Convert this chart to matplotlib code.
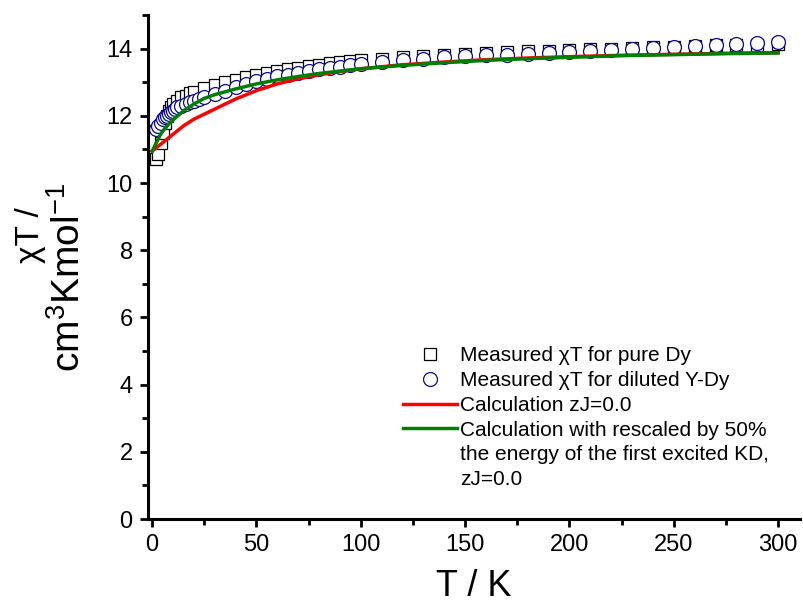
import matplotlib
matplotlib.use("Agg")
import matplotlib.pyplot as plt
from matplotlib.lines import Line2D
from matplotlib.ticker import MultipleLocator

plt.rcParams['font.family'] = ['Liberation Sans', 'DejaVu Sans']
plt.rcParams['mathtext.fontset'] = 'custom'
plt.rcParams['mathtext.rm'] = 'Liberation Sans'
plt.rcParams['mathtext.it'] = 'Liberation Sans:italic'

# Measured chiT, pure Dy (squares)
T_pure = [2, 3, 4, 5, 6, 7, 8, 9, 10, 12, 14, 16, 18, 20, 25, 30, 35, 40, 45, 50,
          55, 60, 65, 70, 75, 80, 85, 90, 95, 100, 110, 120, 130, 140, 150, 160,
          170, 180, 190, 200, 210, 220, 230, 240, 250, 260, 270, 280, 290, 300]
chiT_pure = [10.7, 10.85, 11.2, 11.5, 11.8, 12.0, 12.15, 12.25, 12.35, 12.45, 12.55,
             12.6, 12.68, 12.72, 12.82, 12.92, 13.0, 13.08, 13.15, 13.22, 13.28,
             13.33, 13.38, 13.43, 13.47, 13.52, 13.56, 13.6, 13.63, 13.66, 13.7,
             13.74, 13.78, 13.82, 13.85, 13.88, 13.9, 13.92, 13.94, 13.96, 13.98,
             14.0, 14.02, 14.04, 14.06, 14.08, 14.1, 14.11, 14.12, 14.13]

# Measured chiT, diluted Y-Dy (circles)
T_dil = [2, 3, 4, 5, 6, 7, 8, 9, 10, 11, 12, 14, 16, 18, 20, 22.5, 25, 30, 35, 40,
         45, 50, 55, 60, 65, 70, 75, 80, 85, 90, 95, 100, 110, 120, 130, 140, 150,
         160, 170, 180, 190, 200, 210, 220, 230, 240, 250, 260, 270, 280, 290, 300]
chiT_dil = [11.6, 11.7, 11.8, 11.9, 11.95, 12.0, 12.05, 12.1, 12.15, 12.2, 12.25,
            12.3, 12.35, 12.4, 12.45, 12.5, 12.55, 12.65, 12.75, 12.85, 12.95,
            13.03, 13.1, 13.17, 13.22, 13.28, 13.33, 13.38, 13.42, 13.46, 13.5,
            13.55, 13.6, 13.65, 13.7, 13.74, 13.78, 13.8, 13.82, 13.85, 13.87,
            13.89, 13.92, 13.95, 14.0, 14.02, 14.05, 14.08, 14.12, 14.15, 14.18, 14.2]

# Calculation zJ=0.0 (red)
T_red = [0, 2, 5, 10, 15, 20, 30, 40, 50, 60, 70, 80, 90, 100, 120, 140, 160, 180,
         200, 225, 250, 275, 300]
chiT_red = [10.95, 11.05, 11.2, 11.45, 11.7, 11.9, 12.2, 12.5, 12.75, 12.95, 13.1,
            13.22, 13.32, 13.4, 13.52, 13.6, 13.67, 13.72, 13.76, 13.8, 13.83,
            13.86, 13.88]

# Calculation with rescaled first excited KD (green)
T_green = [0, 2, 4, 6, 8, 10, 15, 20, 25, 30, 40, 50, 60, 70, 80, 90, 100, 120, 140,
           160, 180, 200, 225, 250, 275, 300]
chiT_green = [10.95, 11.2, 11.45, 11.62, 11.76, 11.88, 12.15, 12.35, 12.52, 12.63,
              12.8, 12.95, 13.07, 13.17, 13.26, 13.33, 13.4, 13.5, 13.58, 13.65,
              13.7, 13.74, 13.79, 13.82, 13.85, 13.87]

labels = ["Measured χT for pure Dy",
          "Measured χT for diluted Y-Dy",
          "Calculation zJ=0.0",
          "Calculation with rescaled by 50%",
          "the energy of the first excited KD,",
          "zJ=0.0"]

fig = plt.figure(figsize=(8.04, 6.08), dpi=100)
ax = fig.add_axes([148/804, 1 - 519/608, (800 - 148)/804, (519 - 15)/608])

ax.plot(T_pure, chiT_pure, linestyle='none', marker='s', markersize=8.3,
        markerfacecolor='white', markeredgecolor='black', markeredgewidth=0.9)
ax.plot(T_dil, chiT_dil, linestyle='none', marker='o', markersize=10,
        markerfacecolor='white', markeredgecolor='#0a0a8c', markeredgewidth=0.9)
ax.plot(T_red, chiT_red, color='#ff0000', lw=2.5)
ax.plot(T_green, chiT_green, color='#008000', lw=2.5)

ax.set_xlim(-2, 310.5)
ax.set_ylim(0, 15)
ax.xaxis.set_major_locator(MultipleLocator(50))
ax.xaxis.set_minor_locator(MultipleLocator(25))
ax.yaxis.set_major_locator(MultipleLocator(2))
ax.yaxis.set_minor_locator(MultipleLocator(1))
for s in ['top', 'right']:
    ax.spines[s].set_visible(False)
for s in ['left', 'bottom']:
    ax.spines[s].set_linewidth(2.2)
ax.tick_params(which='major', direction='out', length=6, width=2, labelsize=17, pad=5)
ax.tick_params(which='minor', direction='out', length=4, width=2)

ax.set_xlabel("T / K", fontsize=26, labelpad=9)
fig.text(31/804, 1 - 235/608, "χT /", rotation=90, fontsize=24,
         ha='center', va='center')
fig.text(69/804, 1 - 277/608, "cm$^3$Kmol$^{-1}$", rotation=90, fontsize=28,
         ha='center', va='center')

handles = [
    Line2D([], [], linestyle='none', marker='s', markersize=8, markerfacecolor='white',
           markeredgecolor='black', markeredgewidth=0.9),
    Line2D([], [], linestyle='none', marker='o', markersize=10, markerfacecolor='white',
           markeredgecolor='#0a0a8c', markeredgewidth=0.9),
    Line2D([], [], color='#ff0000', lw=2.5),
    Line2D([], [], color='#008000', lw=2.5),
    Line2D([], [], color='none'),
    Line2D([], [], color='none'),
]
ax.legend(handles, labels, loc='upper left', bbox_to_anchor=(0.391, 0.343),
          frameon=False, fontsize=15, handlelength=2.6, handletextpad=0.15,
          labelspacing=0.28, borderpad=0, borderaxespad=0)

fig.savefig("out.png", dpi=100)
